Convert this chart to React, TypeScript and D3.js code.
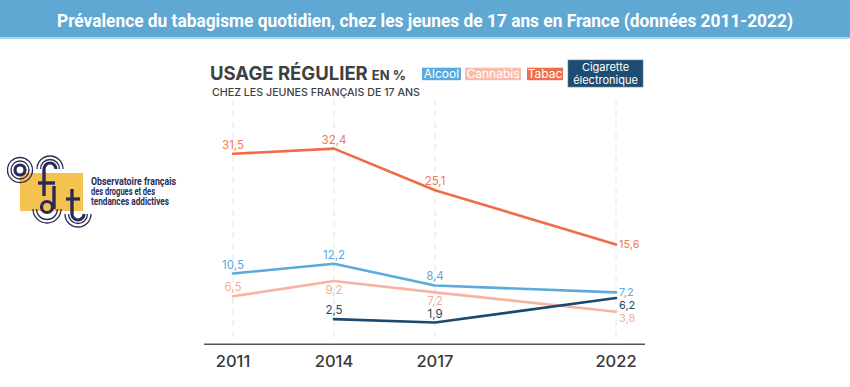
import React from 'react';
import * as d3 from 'd3';

const years = [2011, 2014, 2017, 2022];
const alcool = [10.5, 12.2, 8.4, 7.2];
const cannabis = [6.5, 9.2, 7.2, 3.8];
const tabac = [31.5, 32.4, 25.1, 15.6];
const cigarette = [null, 2.5, 1.9, 6.2];

const seriesNames = ['Cannabis', 'Alcool', 'Tabac', 'Cigarette électronique'];
const seriesValues = [cannabis, alcool, tabac, cigarette];
const seriesColors = ['#f7b5a1', '#5aaadc', '#f06c47', '#1c4a6e'];
const labelColors = ['#f6ae98', '#5aaadc', '#f27a55', '#1c4a6e'];

const title = 'Prévalence du tabagisme quotidien, chez les jeunes de 17 ans en France (données 2011-2022)';

const W = 850, H = 387;
const navy = '#2b2a55';
const fontUI = 'Inter, "Open Sans", sans-serif';

const fmt = (v: number) => String(v).replace('.', ',');

function Logo() {
  const arc = (r: number, a0: number, a1: number) =>
    d3.arc()({ innerRadius: r, outerRadius: r, startAngle: a0, endAngle: a1 } as any) as string;
  const ring = (cx: number, cy: number, rs: number[], a0: number, a1: number) =>
    rs.map((r, i) => (
      <path key={i} d={arc(r, a0, a1)} transform={`translate(${cx},${cy})`}
            fill="none" stroke={navy} strokeWidth={i === 0 ? 3.2 : 1.3} />
    ));
  return (
    <g>
      <rect x={20} y={173} width={63} height={38} fill="#f3c24f" />
      {/* o */}
      {ring(20, 170, [5, 9, 12.5], 0, 2 * Math.PI)}
      {/* f */}
      {ring(50, 169, [6, 9.5, 13], -Math.PI / 2, Math.PI / 2)}
      <line x1={44} y1={169} x2={44} y2={196} stroke={navy} strokeWidth={3.4} />
      <line x1={38} y1={183} x2={55} y2={183} stroke={navy} strokeWidth={3.4} />
      {/* d */}
      <circle cx={47} cy={207} r={5.5} fill="none" stroke={navy} strokeWidth={3.2} />
      <line x1={54} y1={186} x2={54} y2={209} stroke={navy} strokeWidth={3.4} />
      {ring(47, 209, [7, 10.5, 14], Math.PI / 2, Math.PI * 1.5).slice(1)}
      {/* t */}
      <line x1={72} y1={189} x2={72} y2={214} stroke={navy} strokeWidth={3.4} />
      <line x1={66} y1={199} x2={80} y2={199} stroke={navy} strokeWidth={3.2} />
      {ring(78, 214, [6, 9.5, 13], Math.PI / 2, Math.PI * 1.5)}
      <g fill={navy} fontFamily='"Roboto", sans-serif' fontWeight={700} fontSize={10}>
        <text x={91} y={185} textLength={85} lengthAdjust="spacingAndGlyphs">Observatoire français</text>
        <text x={91} y={195} textLength={64} lengthAdjust="spacingAndGlyphs">des drogues et des</text>
        <text x={91} y={205} textLength={78} lengthAdjust="spacingAndGlyphs">tendances addictives</text>
      </g>
    </g>
  );
}

export default function App() {
  const x = d3.scaleLinear().domain([2011, 2017, 2022]).range([233, 435, 616]);
  const y = d3.scaleLinear().domain([0, 35]).range([333.4, 133.8]);

  const line = d3.line<number | null>()
    .defined(d => d != null)
    .x((d, i) => x(years[i]))
    .y(d => y(d as number));

  // labels on the last year sit to the right; keep them apart
  const last = years.length - 1;
  const rightLabels = seriesValues
    .map((vals, s) => ({ s, y: y(vals[last] as number) + 4 }))
    .sort((a, b) => a.y - b.y);
  for (let i = 1; i < rightLabels.length; i++) {
    if (rightLabels[i].y - rightLabels[i - 1].y < 13) rightLabels[i].y = rightLabels[i - 1].y + 13;
  }
  const rightY: Record<number, number> = {};
  rightLabels.forEach(r => { rightY[r.s] = r.y; });

  const legend = [
    { name: 'Alcool', x: 422, w: 39, color: '#5aaadf' },
    { name: 'Cannabis', x: 465, w: 56, color: '#f9bcab' },
    { name: 'Tabac', x: 527, w: 36, color: '#ee6e4c' },
  ];

  return (
    <svg width={W} height={H} style={{ position: 'absolute', left: 0, top: 0, background: '#fff' }}>
      {/* title bar */}
      <rect x={0} y={0} width={W} height={37} fill="#5fa8d3" />
      <rect x={0} y={37} width={W} height={2} fill="#acd5ee" />
      <text x={425} y={26.5} textAnchor="middle" fill="#fff" fontFamily='"Liberation Sans Narrow", Roboto, sans-serif'
            fontWeight={700} fontSize={18} textLength={736} lengthAdjust="spacingAndGlyphs">{title}</text>

      <Logo />

      {/* header */}
      <text x={210} y={80} fill="#404040" fontFamily={fontUI} fontWeight={700} fontSize={18.5}>
        USAGE RÉGULIER<tspan fontSize={13} dx={4}>EN %</tspan>
      </text>
      <text x={212} y={95.5} fill="#404040" fontFamily={fontUI} fontWeight={500} fontSize={10}
            textLength={208} lengthAdjust="spacingAndGlyphs">CHEZ LES JEUNES FRANÇAIS DE 17 ANS</text>

      {/* legend */}
      {legend.map(l => (
        <g key={l.name}>
          <rect x={l.x} y={67.7} width={l.w} height={12.5} fill={l.color} />
          <text x={l.x + l.w / 2} y={78.3} textAnchor="middle" fill="#fff" fontFamily={fontUI} fontSize={12}>{l.name}</text>
        </g>
      ))}
      <rect x={568} y={60} width={75} height={27} fill="#1f4d72" stroke="#5d7f9c" strokeWidth={0.6} />
      <text x={605.5} y={71.3} textAnchor="middle" fill="#fff" fontFamily={fontUI} fontSize={11}>Cigarette</text>
      <text x={605.5} y={84.3} textAnchor="middle" fill="#fff" fontFamily={fontUI} fontSize={11}>électronique</text>

      {/* grid */}
      {years.map(yr => (
        <line key={yr} x1={x(yr)} x2={x(yr)} y1={100} y2={342} stroke="#e4e4e4" strokeDasharray="6,5" />
      ))}

      {/* lines */}
      {seriesValues.map((vals, s) => (
        <path key={seriesNames[s]} d={line(vals) as string} fill="none" stroke={seriesColors[s]}
              strokeWidth={2.6} strokeLinejoin="round" strokeLinecap="round" />
      ))}

      {/* value labels */}
      {seriesValues.map((vals, s) => vals.map((v, i) => {
        if (v == null) return null;
        const px = x(years[i]);
        const py = y(v);
        if (i === last) {
          return (
            <text key={`${s}-${i}`} x={px + 3} y={rightY[s]} fill={labelColors[s]}
                  fontFamily={fontUI} fontSize={11}>{fmt(v)}</text>
          );
        }
        const below = seriesNames[s] === 'Cannabis' && i > 0;
        return (
          <text key={`${s}-${i}`} x={px} y={below ? py + 13 : py - 5} textAnchor="middle" fill={labelColors[s]}
                fontFamily={fontUI} fontSize={11.5}>{fmt(v)}</text>
        );
      }))}

      {/* axis */}
      <line x1={204} x2={645} y1={344.3} y2={344.3} stroke="#555" strokeWidth={1.5} />
      {years.map(yr => (
        <text key={yr} x={x(yr)} y={366.5} textAnchor="middle" fill="#3a3a3a" fontFamily={fontUI}
              fontWeight={500} fontSize={16.5}>{yr}</text>
      ))}
    </svg>
  );
}
